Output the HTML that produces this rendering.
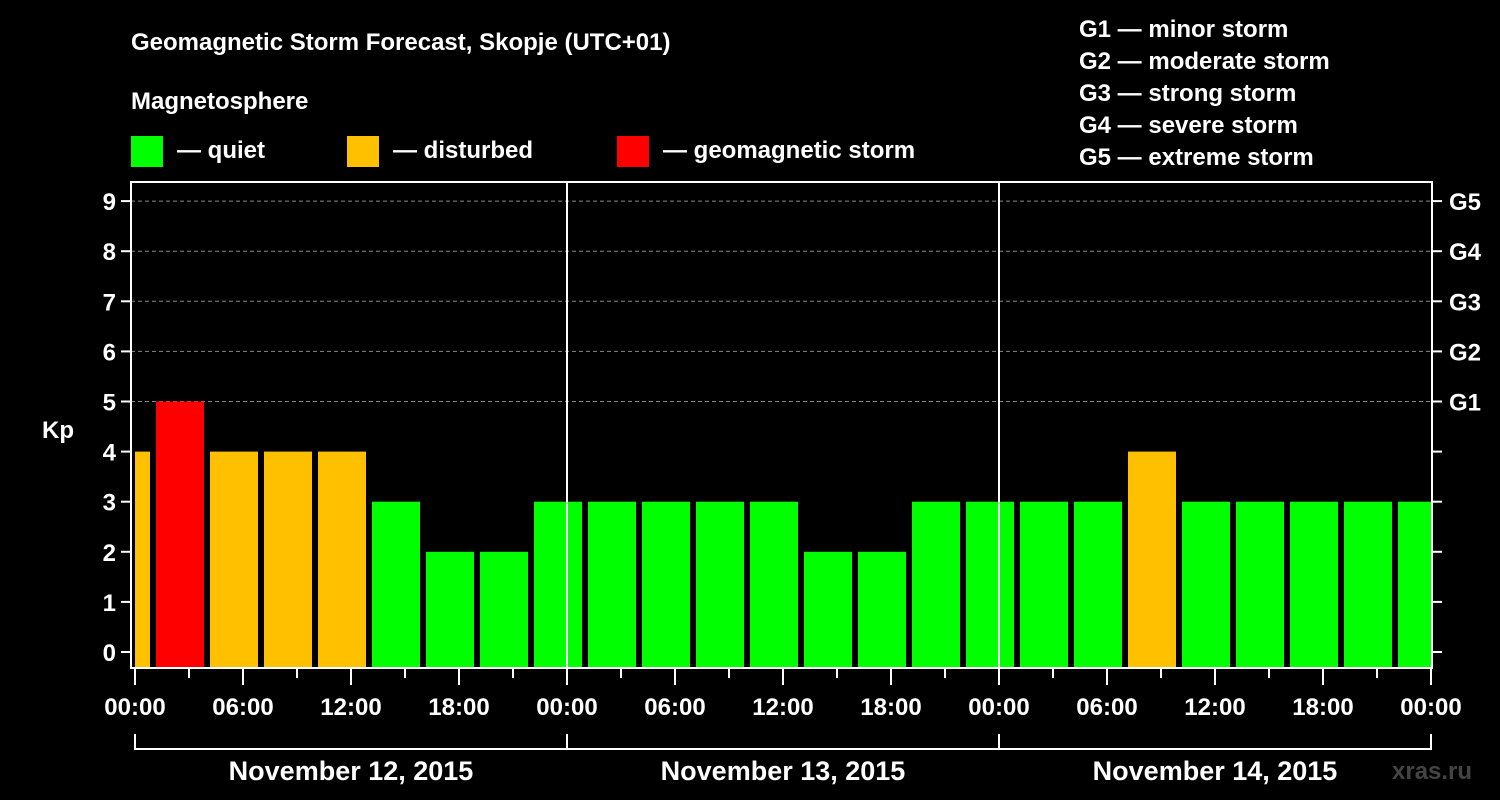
<!DOCTYPE html>
<html><head><meta charset="utf-8"><style>
body{margin:0;background:#000;}
svg{display:block;font-family:"Liberation Sans",sans-serif;font-weight:bold;}
</style></head><body>
<svg id="c" width="1500" height="800">
<rect width="1500" height="800" fill="#000"/>
<text x="131" y="50" fill="#fff" font-size="24">Geomagnetic Storm Forecast, Skopje (UTC+01)</text>
<text x="131" y="109" fill="#fff" font-size="24">Magnetosphere</text>
<g><rect x="131" y="136" width="32" height="31" fill="#00ff00"/><text x="177" y="158" fill="#fff" font-size="24">— quiet</text></g>
<g><rect x="347" y="136" width="32" height="31" fill="#ffc000"/><text x="393" y="158" fill="#fff" font-size="24">— disturbed</text></g>
<g><rect x="617" y="136" width="32" height="31" fill="#ff0000"/><text x="663" y="158" fill="#fff" font-size="24">— geomagnetic storm</text></g>
<g fill="#fff" font-size="24">
<text x="1079" y="37">G1 — minor storm</text><text x="1079" y="69">G2 — moderate storm</text><text x="1079" y="101">G3 — strong storm</text><text x="1079" y="133">G4 — severe storm</text><text x="1079" y="165">G5 — extreme storm</text>
</g>
<text x="42" y="438" fill="#fff" font-size="24">Kp</text>
<text x="1392" y="779" fill="#444" font-size="24">xras.ru</text>
<g id="plot"></g>
</svg>
<script>
const values=[4,5,4,4,4,3,2,2,3,3,3,3,3,2,2,3,3,3,3,4,3,3,3,3,3];
const yTicks=[0,1,2,3,4,5,6,7,8,9];
const gLabels=["G1","G2","G3","G4","G5"];
const xTickLabels=["00:00","06:00","12:00","18:00","00:00","06:00","12:00","18:00","00:00","06:00","12:00","18:00","00:00"];
const dayLabels=["November 12, 2015","November 13, 2015","November 14, 2015"];
const firstSlotHour=-2.1667;
const NS="http://www.w3.org/2000/svg";
const g=document.getElementById('plot');
const L=131,R=1432,T=182,B=668,X0=135,PXH=18;
const y=v=>652-v*50.1;
const x=h=>X0+h*PXH;
function mk(t,a,p){const e=document.createElementNS(NS,t);for(const k in a)e.setAttribute(k,a[k]);(p||g).appendChild(e);return e;}
// grid
for(let v=5;v<=9;v++){const l=mk('line',{x1:L,x2:R,y1:y(v),y2:y(v),stroke:'#888','stroke-dasharray':'4,3','stroke-width':1});

}
// bars
const clip=mk('clipPath',{id:'cp'});mk('rect',{x:L+4,y:T,width:R-L-5,height:B-T},clip);
values.forEach((v,i)=>{const h0=firstSlotHour+i*3;
const col=v>=5?'#ff0000':v>=4?'#ffc000':'#00ff00';
const r=mk('rect',{x:x(h0)+6,y:y(v),width:3*PXH-6,height:B-1-y(v),fill:col,'clip-path':'url(#cp)'});

});
// day separators
[1,2].forEach(d=>{const l=mk('line',{x1:x(24*d),x2:x(24*d),y1:T,y2:B,stroke:'#fff','stroke-width':2});

});
// frame
const f=mk('rect',{x:L,y:T,width:R-L,height:B-T,fill:'none',stroke:'#fff','stroke-width':2});


// y ticks
yTicks.forEach(v=>{mk('line',{x1:121,x2:L,y1:y(v),y2:y(v),stroke:'#fff','stroke-width':2});
mk('line',{x1:R,x2:1442,y1:y(v),y2:y(v),stroke:'#fff','stroke-width':2});
const t=mk('text',{x:116,y:y(v)+9,fill:'#fff','font-size':24,'text-anchor':'end'});t.textContent=v;

});
gLabels.forEach((s,i)=>{const t=mk('text',{x:1449,y:y(5+i)+9,fill:'#fff','font-size':24});t.textContent=s;

});
// x ticks
for(let h=0;h<=72;h+=3){const major=h%6===0;mk('line',{x1:x(h),x2:x(h),y1:B,y2:major?685:678,stroke:'#fff','stroke-width':2});}
xTickLabels.forEach((s,i)=>{const t=mk('text',{x:x(i*6),y:715,fill:'#fff','font-size':24,'text-anchor':'middle'});t.textContent=s;

});
// day brackets
mk('line',{x1:x(0),x2:x(72),y1:749,y2:749,stroke:'#fff','stroke-width':2});
[0,24,48,72].forEach(h=>mk('line',{x1:x(h),x2:x(h),y1:734,y2:750,stroke:'#fff','stroke-width':2}));
dayLabels.forEach((s,i)=>{const t=mk('text',{x:x(24*i+12),y:780,fill:'#fff','font-size':27,'text-anchor':'middle'});t.textContent=s;

});
</script>
</body></html>
